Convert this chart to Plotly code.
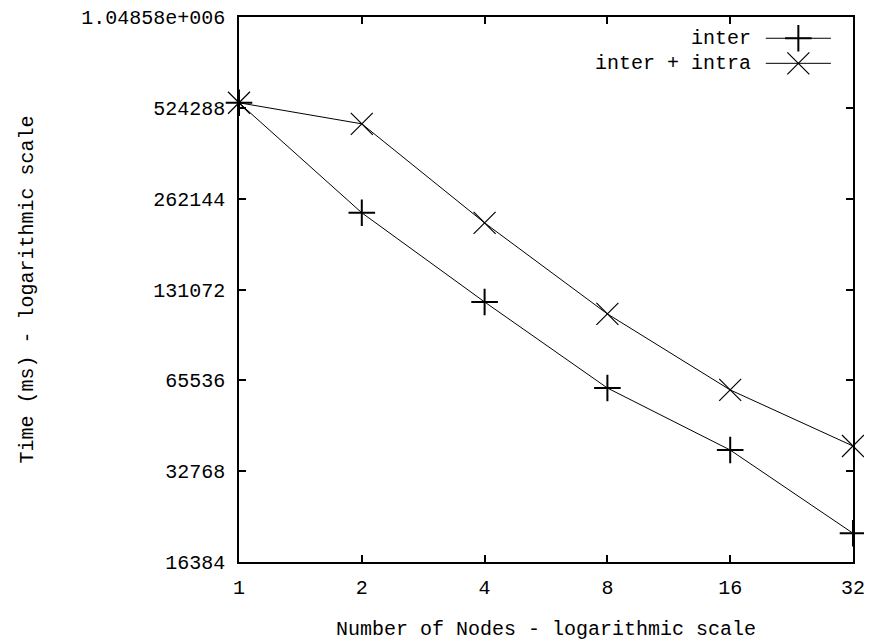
import plotly.graph_objects as go

nodes = [1, 2, 4, 8, 16, 32]
inter = [545000, 235300, 119200, 61800, 38500, 20400]
inter_intra = [545000, 464000, 217900, 108800, 60900, 39700]

x_ticks = [1, 2, 4, 8, 16, 32]
x_ticktext = ["1", "2", "4", "8", "16", "32"]
y_ticks = [16384, 32768, 65536, 131072, 262144, 524288, 1048576]
y_ticktext = ["16384", "32768", "65536", "131072", "262144", "524288", "1.04858e+006"]

FONT = "Liberation Mono"
FS = 20
fig = go.Figure()

fig.add_trace(go.Scatter(
    x=nodes, y=inter, mode="lines+markers", name="inter",
    line=dict(color="black", width=1),
    marker=dict(symbol="cross-thin", size=19, line=dict(color="black", width=2)),
    showlegend=False, cliponaxis=False))
fig.add_trace(go.Scatter(
    x=nodes, y=inter_intra, mode="lines+markers", name="inter + intra",
    line=dict(color="black", width=1),
    marker=dict(symbol="x-thin", size=22, line=dict(color="black", width=1.2)),
    showlegend=False, cliponaxis=False))

# legend samples (on overlay paper-like axes)
leg_y = [0.961, 0.915]
for name, sym, w, sz, yy in [("inter", "cross-thin", 2, 19, leg_y[0]),
                             ("inter + intra", "x-thin", 1.2, 22, leg_y[1])]:
    fig.add_trace(go.Scatter(
        x=[0.858, 0.964], y=[yy, yy], mode="lines", xaxis="x2", yaxis="y2",
        line=dict(color="black", width=1), showlegend=False, hoverinfo="skip"))
    fig.add_trace(go.Scatter(
        x=[0.911], y=[yy], mode="markers", xaxis="x2", yaxis="y2",
        marker=dict(symbol=sym, size=sz, line=dict(color="black", width=w)),
        showlegend=False, hoverinfo="skip"))
    fig.add_annotation(x=0.837, y=yy, xref="x2", yref="y2", text=name,
                       showarrow=False, xanchor="right", yanchor="middle",
                       font=dict(family=FONT, size=FS, color="black"))

axis_common = dict(showline=True, linecolor="black", linewidth=1.5, mirror="ticks",
                   ticks="inside", ticklen=7, tickwidth=1.5, tickcolor="black",
                   showgrid=False, zeroline=False, automargin=False,
                   ticklabeloverflow="allow",
                   tickfont=dict(family=FONT, size=FS, color="black"))

fig.update_layout(
    width=864, height=634,
    margin=dict(l=231, r=19, t=9, b=80),
    plot_bgcolor="white", paper_bgcolor="white",
    xaxis=dict(type="log", range=[0, 5 * 0.30103], tickvals=x_ticks, ticktext=x_ticktext,
               ticklabelstandoff=6,
               title=dict(text="Number of Nodes - logarithmic scale", standoff=22,
                          font=dict(family=FONT, size=FS, color="black")),
               **axis_common),
    yaxis=dict(type="log", range=[14 * 0.30103, 20 * 0.30103], tickvals=y_ticks, ticktext=y_ticktext,
               ticklabelstandoff=8,
               title=dict(text="Time (ms) - logarithmic scale", standoff=42,
                          font=dict(family=FONT, size=FS, color="black")),
               **axis_common),
    xaxis2=dict(range=[0, 1], overlaying="x", visible=False, fixedrange=True),
    yaxis2=dict(range=[0, 1], overlaying="y", visible=False, fixedrange=True),
    showlegend=False,
)

fig.write_html("out.html")
